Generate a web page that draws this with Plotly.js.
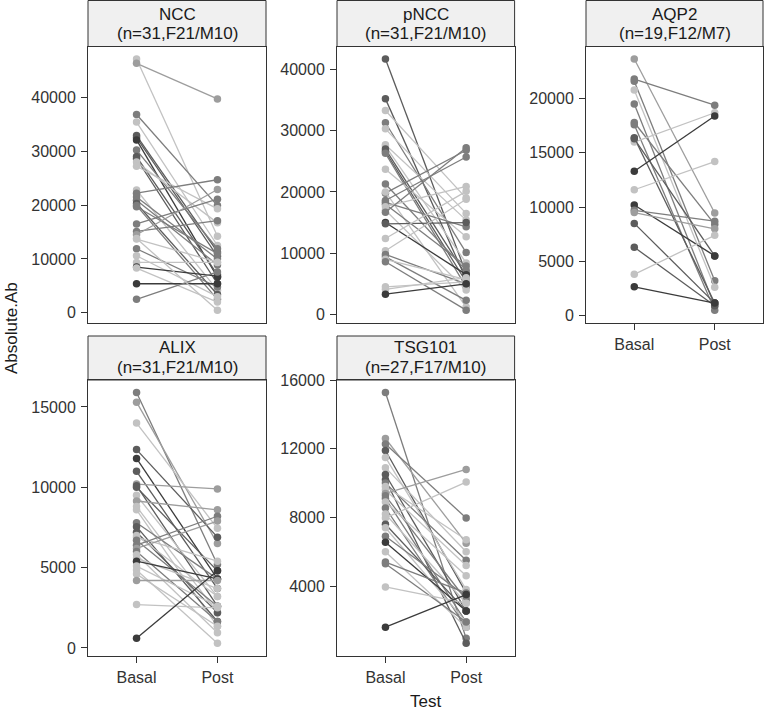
<!DOCTYPE html>
<html>
<head>
<meta charset="utf-8">
<script src="https://cdn.plot.ly/plotly-3.0.1.min.js"></script>
<style>html,body{margin:0;padding:0;background:#fff;}#chart{width:764px;height:711px;}</style>
</head>
<body>
<div id="chart"></div>
<script>
// ---- Data ----
const tests = ['Basal', 'Post'];
const panelNames = ['NCC', 'pNCC', 'AQP2', 'ALIX', 'TSG101'];
const panelSubtitles = ['(n=31,F21/M10)', '(n=31,F21/M10)', '(n=19,F12/M7)', '(n=31,F21/M10)', '(n=27,F17/M10)'];

const nccBasal = [47100, 46300, 36800, 35400, 32900, 32500, 32100, 30200, 29000, 28600, 28000, 27200, 22800, 22200, 21500, 20900, 20300, 19900, 19700, 16500, 15100, 14500, 13700, 11900, 10600, 9350, 8500, 8300, 5400, 2500, 13800];
const nccPost  = [14200, 39700, 19900, 12500, 11300, 10500, 6600, 11900, 7100, 5400, 16700, 19300, 4200, 24700, 10000, 8900, 3400, 2500, 11000, 21100, 17100, 22900, 9400, 4800, 3000, 9350, 6800, 2000, 5400, 7600, 500];

const pnccBasal = [41700, 35200, 33300, 31300, 30300, 27700, 27500, 27000, 26600, 26300, 23700, 21300, 19800, 20000, 18600, 18300, 18000, 17600, 17000, 16700, 15000, 14800, 12400, 10400, 9800, 9400, 9000, 8600, 4500, 4100, 3300];
const pnccPost  = [6700, 5700, 19000, 10100, 16500, 15400, 8400, 6400, 5300, 4500, 12700, 7200, 26800, 1200, 25700, 14300, 7900, 20900, 4000, 27200, 6500, 15000, 20100, 18800, 5000, 2300, 5700, 700, 5300, 6000, 5000];

const aqp2Basal = [23650, 21800, 21600, 20800, 19500, 17800, 17600, 16400, 16000, 16300, 13300, 11600, 10200, 9700, 9500, 8500, 6300, 3800, 2650];
const aqp2Post  = [9450, 19400, 3200, 2600, 900, 8400, 500, 1150, 18700, 5500, 18400, 14200, 5500, 8700, 8000, 1150, 900, 7400, 1150];

const alixBasal = [15900, 15300, 14000, 12350, 11800, 11000, 10200, 10100, 10000, 9500, 9150, 8800, 8600, 7800, 7550, 7200, 7000, 6900, 6700, 6400, 6200, 6000, 5800, 5600, 5400, 5100, 4850, 4600, 4200, 2700, 600];
const alixPost  = [5200, 6500, 7450, 6900, 4300, 3700, 9900, 2600, 4800, 3200, 8600, 2200, 1350, 4300, 1650, 2200, 3200, 5400, 2600, 8200, 7900, 1650, 950, 3700, 4300, 2600, 300, 1350, 4200, 2500, 4800];

const tsgBasal = [15280, 12600, 12280, 11900, 11500, 10900, 10500, 10200, 10000, 9800, 9600, 9400, 9260, 9100, 8900, 8550, 8200, 7970, 7600, 7400, 6900, 6550, 6000, 5400, 5300, 3950, 1600];
const tsgPost  = [950, 6500, 7970, 3600, 3800, 6000, 2550, 670, 5500, 6700, 5200, 10800, 3200, 1900, 4600, 1600, 3000, 10060, 2550, 1900, 3400, 2550, 1600, 3600, 1900, 3000, 3500];

// ---- Styles (gray level per subject line, 1 = darkest ... 5 = lightest) ----
const nccShade  = [5,4,3,5,2,2,1,3,2,2,5,5,5,3,3,3,2,3,3,3,3,4,5,3,5,5,1,5,1,3,5];
const pnccShade = [2,2,5,3,5,5,5,2,2,3,5,3,3,5,3,3,3,5,5,3,1,2,5,5,3,3,5,3,5,5,1];
const aqp2Shade = [4,3,3,5,3,3,3,2,5,2,1,5,1,3,4,2,2,5,1];
const alixShade = [3,4,5,2,1,2,4,2,2,5,4,5,5,3,2,2,5,5,3,3,4,3,5,5,1,5,5,5,4,5,1];
const tsgShade  = [3,4,3,2,5,5,2,2,3,5,5,4,3,3,5,3,5,5,2,5,3,1,5,3,3,5,1];

const grayOf = {1:'#3b3b3b', 2:'#5c5c5c', 3:'#7d7d7d', 4:'#9d9d9d', 5:'#c2c2c2'};

const W = 764, H = 711;
const panels = [
  {basal: nccBasal,  post: nccPost,  shade: nccShade,  px:[88,266],  py:[46.5,322.7], tv:[0,10000,20000,30000,40000], xlab:false},
  {basal: pnccBasal, post: pnccPost, shade: pnccShade, px:[337,514.6],py:[46.5,322.7], tv:[0,10000,20000,30000,40000], xlab:false},
  {basal: aqp2Basal, post: aqp2Post, shade: aqp2Shade, px:[586,763],  py:[46.5,322.7], tv:[0,5000,10000,15000,20000], xlab:true},
  {basal: alixBasal, post: alixPost, shade: alixShade, px:[88,266],  py:[380,655.7],  tv:[0,5000,10000,15000], xlab:true},
  {basal: tsgBasal,  post: tsgPost,  shade: tsgShade,  px:[337,514.6],py:[380,655.7],  tv:[4000,8000,12000,16000], xlab:true}
];
const stripTop = [0.5, 0.5, 0.5, 336, 336];

const FONT = 'Liberation Sans, Arial, sans-serif';
const traces = [];
const layout = {
  width: W, height: H,
  margin: {l:0, r:0, t:0, b:0},
  paper_bgcolor: '#fff', plot_bgcolor: '#fff',
  showlegend: false,
  font: {family: FONT, color: '#333'},
  shapes: [], annotations: []
};

panels.forEach((p, k) => {
  const n = k + 1;
  const xk = n === 1 ? 'x' : 'x' + n;
  const yk = n === 1 ? 'y' : 'y' + n;
  const all = p.basal.concat(p.post);
  const mn = Math.min(...all), mx = Math.max(...all);
  const pad = 0.05 * (mx - mn);
  for (let i = 0; i < p.basal.length; i++) {
    const c = grayOf[p.shade[i]];
    traces.push({
      x: tests, y: [p.basal[i], p.post[i]],
      xaxis: xk, yaxis: yk, type: 'scatter', mode: 'lines+markers',
      line: {color: c, width: 1.3},
      marker: {color: c, size: 7.5},
      hoverinfo: 'skip'
    });
  }
  const xd = [p.px[0] / W, p.px[1] / W];
  const yd = [1 - p.py[1] / H, 1 - p.py[0] / H];
  layout['xaxis' + (n === 1 ? '' : n)] = {
    domain: xd, anchor: yk, type: 'category', categoryorder: 'array', categoryarray: tests,
    range: [-0.6, 1.6], showline: true, mirror: true, linecolor: '#333', linewidth: 1,
    ticks: p.xlab ? 'outside' : '', ticklen: 6, tickcolor: '#333', showticklabels: p.xlab,
    ticklabelstandoff: 1,
    showgrid: false, zeroline: false, tickfont: {family: FONT, size: 16, color: '#333'}
  };
  layout['yaxis' + (n === 1 ? '' : n)] = {
    domain: yd, anchor: xk, range: [mn - pad, mx + pad], tickvals: p.tv, tickformat: 'd',
    showline: true, mirror: true, linecolor: '#333', linewidth: 1,
    ticks: 'outside', ticklen: 6, tickcolor: '#333', showgrid: false, zeroline: false,
    ticklabelstandoff: 2,
    tickfont: {family: FONT, size: 16, color: '#333'}
  };
  // strip
  const st = stripTop[k];
  layout.shapes.push({
    type: 'rect', xref: 'paper', yref: 'paper',
    x0: p.px[0] / W, x1: p.px[1] / W, y0: 1 - p.py[0] / H, y1: 1 - st / H,
    fillcolor: '#f0f0f0', line: {color: '#333', width: 1}, layer: 'below'
  });
  const cx = (p.px[0] + p.px[1]) / 2 / W;
  layout.annotations.push({
    xref: 'paper', yref: 'paper', x: cx, y: 1 - (p.py[0] - 32.5) / H,
    text: panelNames[k], showarrow: false, xanchor: 'center', yanchor: 'middle',
    font: {family: FONT, size: 17, color: '#1a1a1a'}
  });
  layout.annotations.push({
    xref: 'paper', yref: 'paper', x: cx, y: 1 - (p.py[0] - 13) / H,
    text: panelSubtitles[k], showarrow: false, xanchor: 'center', yanchor: 'middle',
    font: {family: FONT, size: 17, color: '#1a1a1a'}
  });
});

layout.annotations.push({
  xref: 'paper', yref: 'paper', x: 425.5 / W, y: 1 - 701 / H,
  text: 'Test', showarrow: false, xanchor: 'center', yanchor: 'middle',
  font: {family: FONT, size: 17, color: '#1a1a1a'}
});
layout.annotations.push({
  xref: 'paper', yref: 'paper', x: 11 / W, y: 1 - 328 / H,
  text: 'Absolute.Ab', showarrow: false, xanchor: 'center', yanchor: 'middle', textangle: -90,
  font: {family: FONT, size: 17, color: '#1a1a1a'}
});

Plotly.newPlot('chart', traces, layout, {staticPlot: true, displayModeBar: false});
</script>
</body>
</html>
